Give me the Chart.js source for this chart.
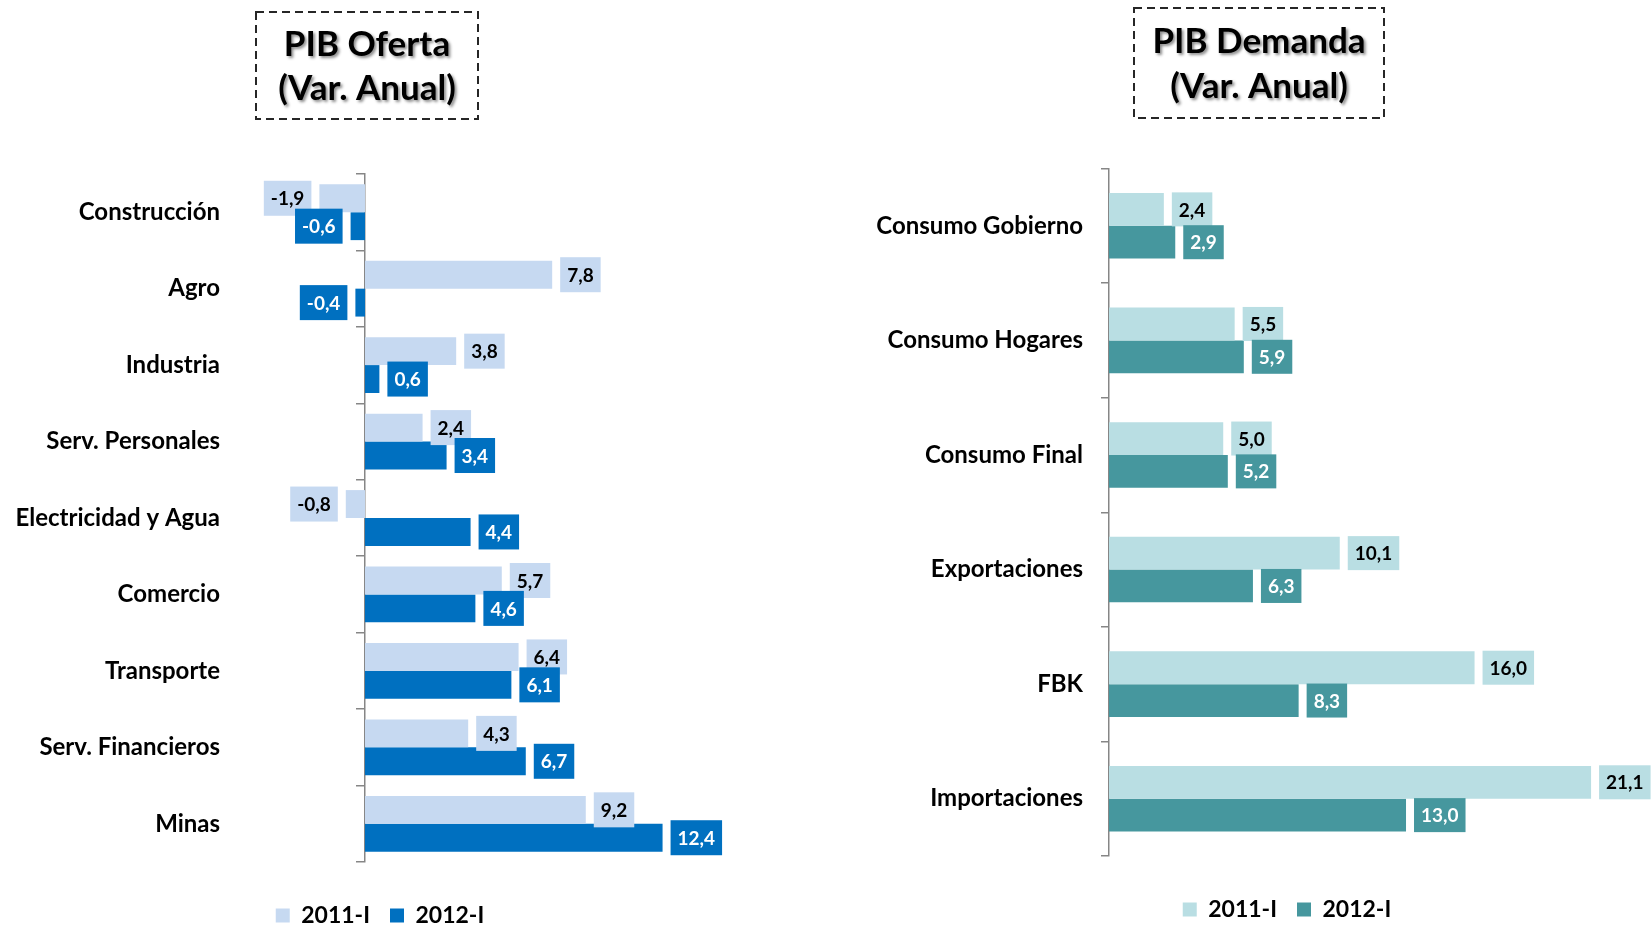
<!DOCTYPE html>
<html>
<head>
<meta charset="utf-8">
<script src="https://cdn.jsdelivr.net/npm/chart.js@4.4.1/dist/chart.umd.min.js"></script>
<style>
  body { margin: 0; width: 1651px; height: 925px; overflow: hidden; background: #fff; position: relative; }
  canvas { position: absolute; top: 0; }
</style>
</head>
<body>
<canvas id="oferta" width="760" height="937" style="left:0"></canvas>
<canvas id="demanda" width="854" height="931" style="left:860px"></canvas>
<script>
const seriesNames = ["2011-I", "2012-I"];

const ofertaLabels = ["Construcción", "Agro", "Industria", "Serv. Personales", "Electricidad y Agua",
  "Comercio", "Transporte", "Serv. Financieros", "Minas"];
const oferta2011 = [-1.9, 7.8, 3.8, 2.4, -0.8, 5.7, 6.4, 4.3, 9.2];
const oferta2012 = [-0.6, -0.4, 0.6, 3.4, 4.4, 4.6, 6.1, 6.7, 12.4];

const demandaLabels = ["Consumo Gobierno", "Consumo Hogares", "Consumo Final", "Exportaciones", "FBK", "Importaciones"];
const demanda2011 = [2.4, 5.5, 5.0, 10.1, 16.0, 21.1];
const demanda2012 = [2.9, 5.9, 5.2, 6.3, 8.3, 13.0];

const FONT = "Lato";
Chart.defaults.font.family = FONT;
Chart.defaults.color = "#000";

const fmt = v => v.toFixed(1).replace(".", ",");

// value labels in filled boxes next to each bar end
const valueBoxes = {
  id: "valueBoxes",
  afterDatasetsDraw(chart, args, o) {
    const ctx = chart.ctx;
    ctx.save();
    ctx.font = "bold " + o.size + "px " + FONT;
    ctx.textAlign = "center";
    ctx.textBaseline = "middle";
    chart.data.datasets.forEach((ds, i) => {
      chart.getDatasetMeta(i).data.forEach((bar, j) => {
        const v = ds.data[j];
        const txt = fmt(v);
        const w = ctx.measureText(txt).width + 2 * o.padX;
        const left = v >= 0 ? bar.x + o.gap : bar.x - o.gap - w;
        ctx.fillStyle = ds.backgroundColor;
        ctx.fillRect(left, bar.y - o.boxH / 2, w, o.boxH);
        ctx.fillStyle = o.textColors[i];
        ctx.fillText(txt, left + w / 2, bar.y + 1);
      });
    });
    ctx.restore();
  }
};

// dashed box title with a soft shadow on the text
const boxTitle = {
  id: "boxTitle",
  afterDraw(chart, args, o) {
    const ctx = chart.ctx;
    ctx.save();
    ctx.setLineDash([8, 5]);
    ctx.lineWidth = 2;
    ctx.strokeStyle = "#262626";
    ctx.strokeRect(o.box[0], o.box[1], o.box[2], o.box[3]);
    ctx.setLineDash([]);
    ctx.font = "bold " + o.size + "px " + FONT;
    ctx.textAlign = "center";
    ctx.textBaseline = "middle";
    ctx.shadowColor = "rgba(0,0,0,0.45)";
    ctx.shadowOffsetX = 2;
    ctx.shadowOffsetY = 2;
    ctx.shadowBlur = 3;
    ctx.fillStyle = "#000";
    o.lines.forEach((t, k) => ctx.fillText(t, o.cx, o.ys[k]));
    ctx.restore();
  }
};

const axisGrey = "#868686";
const legendOpts = {
  position: "bottom",
  labels: { boxWidth: 14, boxHeight: 14, padding: 20, color: "#000", font: { size: 23, weight: "bold" } }
};

function draw() {
  // PIB Oferta
  new Chart(document.getElementById("oferta"), {
    type: "bar",
    data: {
      labels: ofertaLabels,
      datasets: [
        { label: seriesNames[0], data: oferta2011, backgroundColor: "#C6D9F1" },
        { label: seriesNames[1], data: oferta2012, backgroundColor: "#0070C0" }
      ]
    },
    options: {
      indexAxis: "y",
      responsive: false,
      animation: false,
      categoryPercentage: 0.73,
      barPercentage: 1,
      layout: { padding: { top: 174, left: 0, right: 0, bottom: 0 } },
      scales: {
        x: {
          type: "linear", min: -5.5, max: 16.46,
          ticks: { display: false },
          grid: { display: false, drawTicks: false },
          border: { display: false },
          afterFit: s => { s.height = 22; }
        },
        y: {
          ticks: { padding: 13, font: { size: 24, weight: "bold" }, color: "#000" },
          grid: { display: false, drawTicks: false },
          border: { display: false },
          afterFit: s => { s.width = 233; }
        },
        yZero: {
          type: "category", axis: "y", position: { x: 0 }, offset: true,
          ticks: { display: false },
          grid: { offset: true, drawOnChartArea: false, tickLength: 8, color: axisGrey, lineWidth: 1.5 },
          border: { display: true, color: axisGrey, width: 1.5 }
        }
      },
      plugins: {
        tooltip: { enabled: false },
        legend: legendOpts,
        valueBoxes: { size: 19, padX: 7, gap: 8, boxH: 35, textColors: ["#000", "#fff"] },
        boxTitle: { lines: ["PIB Oferta", "(Var. Anual)"], size: 35, cx: 367, ys: [45, 89], box: [256, 12, 222, 107] }
      }
    },
    plugins: [valueBoxes, boxTitle]
  });

  // PIB Demanda
  new Chart(document.getElementById("demanda"), {
    type: "bar",
    data: {
      labels: demandaLabels,
      datasets: [
        { label: seriesNames[0], data: demanda2011, backgroundColor: "#B9DEE3" },
        { label: seriesNames[1], data: demanda2012, backgroundColor: "#46979E" }
      ]
    },
    options: {
      indexAxis: "y",
      responsive: false,
      animation: false,
      categoryPercentage: 0.573,
      barPercentage: 1,
      layout: { padding: { top: 168.5, left: 0, right: 0, bottom: 0 } },
      scales: {
        x: {
          type: "linear", min: 0, max: 26.48,
          ticks: { display: false },
          grid: { display: false, drawTicks: false },
          border: { display: false },
          afterFit: s => { s.height = 22; }
        },
        y: {
          ticks: { padding: 18, font: { size: 24, weight: "bold" }, color: "#000" },
          grid: { offset: true, drawOnChartArea: false, tickLength: 8, color: axisGrey, lineWidth: 1.5 },
          border: { display: true, color: axisGrey, width: 1.5 },
          afterFit: s => { s.width = 249; }
        }
      },
      plugins: {
        tooltip: { enabled: false },
        legend: legendOpts,
        valueBoxes: { size: 19, padX: 7, gap: 8, boxH: 34, textColors: ["#000", "#fff"] },
        boxTitle: { lines: ["PIB Demanda", "(Var. Anual)"], size: 35, cx: 399, ys: [42, 87], box: [274, 8, 250, 110] }
      }
    },
    plugins: [valueBoxes, boxTitle]
  });
}

if (document.fonts && document.fonts.load) {
  document.fonts.load("bold 20px " + FONT).then(draw, draw);
} else {
  draw();
}
</script>
</body>
</html>
